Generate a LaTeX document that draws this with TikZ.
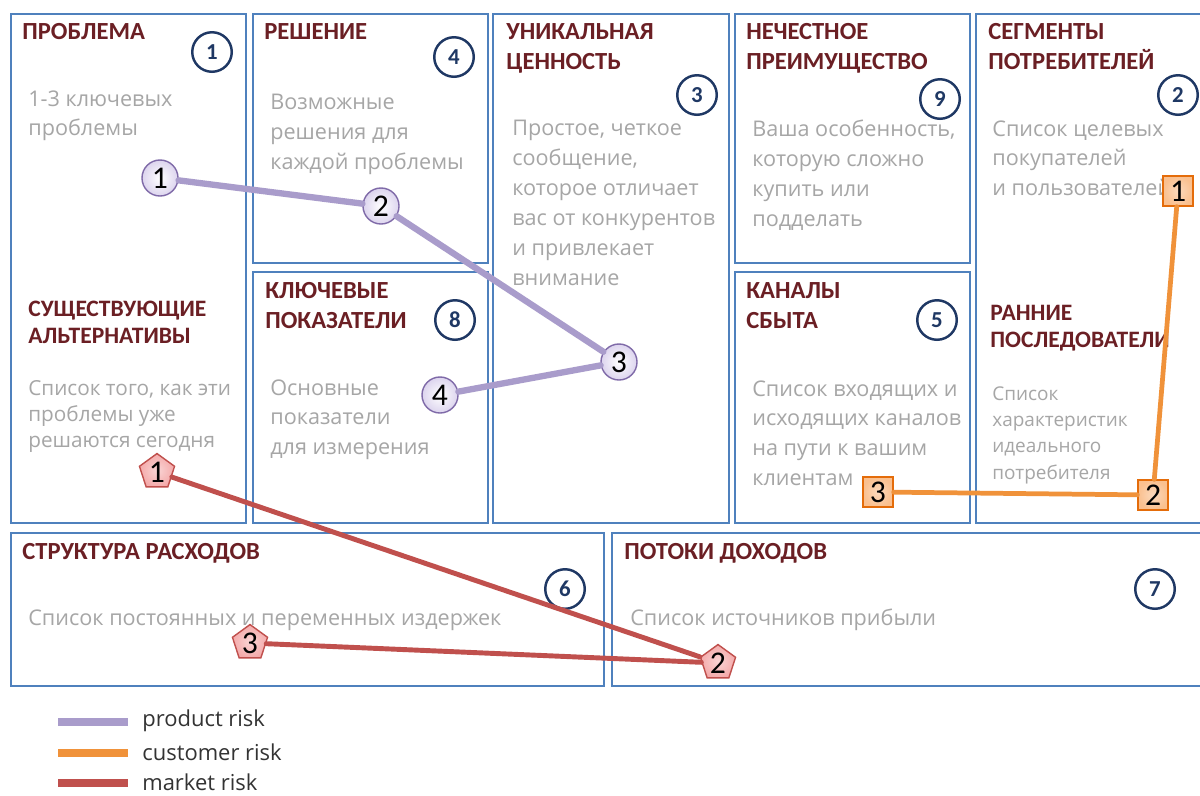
\documentclass[tikz,border=0pt]{standalone}
\usepackage{fontspec}
\setmainfont{Open Sans}
\newfontfamily\headfont{Carlito}
\usetikzlibrary{shapes.geometric}
\definecolor{boxblue}{HTML}{4F81BD}
\definecolor{navy}{HTML}{1F3864}
\definecolor{headred}{HTML}{6B1F24}
\definecolor{bodygray}{HTML}{A6A6A6}
\definecolor{prodline}{HTML}{A99CCB}
\definecolor{prodfill}{HTML}{DCD4EE}
\definecolor{prodedge}{HTML}{7F6AA8}
\definecolor{custline}{HTML}{F0923A}
\definecolor{custfill}{HTML}{FAC08F}
\definecolor{custedge}{HTML}{E46C0A}
\definecolor{mktline}{HTML}{C0504D}
\definecolor{mktfill}{HTML}{F4AAAA}
\tikzset{
  cell/.style={draw=boxblue, line width=1.5pt},
  head/.style={anchor=north west, inner sep=0pt, align=left, text=headred,
    font=\headfont\bfseries\fontsize{14}{17}\selectfont},
  smallhead/.style={head, font=\headfont\bfseries\fontsize{13.4}{15.4}\selectfont},
  body/.style={anchor=north west, inner sep=0pt, align=left, text=bodygray,
    font=\fontsize{12.3}{17}\selectfont},
  smallbody/.style={body, font=\fontsize{11.8}{14.8}\selectfont},
  num/.style={circle, draw=navy, line width=1.4pt, minimum size=22.5pt, inner sep=0pt,
    text=navy, font=\headfont\bfseries\fontsize{13}{13}\selectfont},
  prod/.style={circle, draw=prodedge, line width=0.8pt, inner color=white, outer color=prodfill,
    minimum size=20.5pt, inner sep=0pt, font=\headfont\fontsize{18}{18}\selectfont},
  cust/.style={rectangle, draw=custedge, line width=0.8pt, inner color=white!40!custfill, outer color=custfill,
    minimum size=17pt, inner sep=0pt, font=\headfont\fontsize{18}{18}\selectfont},
  mkt/.style={regular polygon, regular polygon sides=5, draw=mktline, line width=0.8pt,
    inner color=white!50!mktfill, outer color=mktfill, minimum size=21pt, inner sep=0pt,
    font=\headfont\fontsize{18}{18}\selectfont},
  prodrisk/.style={prodline, line width=3.6pt, line cap=round},
  custrisk/.style={custline, line width=2.7pt, line cap=round},
  mktrisk/.style={mktline, line width=2.8pt, line cap=round},
  legend/.style={anchor=west, inner sep=0pt, text=black!80, font=\fontsize{12.5}{14}\selectfont}
}
\begin{document}
\begin{tikzpicture}[x=0.02cm, y=-0.02cm]
    \useasboundingbox[fill=white] (0,0) rectangle (1200,795);
    \clip (0,0) rectangle (1200,795);
    % Boxes
    \draw[cell] (11,14) rectangle (246,523);
    \draw[cell] (253,14) rectangle (488,263);
    \draw[cell] (253,272) rectangle (488,523);
    \draw[cell] (493,14) rectangle (729,523);
    \draw[cell] (735,14) rectangle (970,263);
    \draw[cell] (735,272) rectangle (970,523);
    \draw[cell] (976,14) rectangle (1230,523);
    \draw[cell] (11,533) rectangle (604,686);
    \draw[cell] (612,533) rectangle (1230,686);
    % Headings
    \node[head] (hprob) at (22,23) {ПРОБЛЕМА};
    \node[head] (hsol) at (264,23) {РЕШЕНИЕ};
    \node[head] (huvp) at (506,23) {УНИКАЛЬНАЯ\\ЦЕННОСТЬ};
    \node[head] (hadv) at (746,23) {НЕЧЕСТНОЕ\\ПРЕИМУЩЕСТВО};
    \node[head] (hseg) at (988,23) {СЕГМЕНТЫ\\ПОТРЕБИТЕЛЕЙ};
    \node[head] (hmet) at (265,282) {КЛЮЧЕВЫЕ\\ПОКАЗАТЕЛИ};
    \node[head] (hchan) at (746,282) {КАНАЛЫ\\СБЫТА};
    \node[smallhead] (halt) at (28,301) {СУЩЕСТВУЮЩИЕ\\АЛЬТЕРНАТИВЫ};
    \node[smallhead] (hearly) at (990,305) {РАННИЕ\\ПОСЛЕДОВАТЕЛИ};
    \node[head] (hcost) at (22,543) {СТРУКТУРА РАСХОДОВ};
    \node[head] (hrev) at (624,543) {ПОТОКИ ДОХОДОВ};
    % Body texts
    \node[body] (tprob) at (28,90) {1-3 ключевых\\проблемы};
    \node[smallbody] (talt) at (28,380) {Список того, как эти\\проблемы уже\\решаются сегодня};
    \node[body] (tsol) at (270,94) {Возможные\\решения для\\каждой проблемы};
    \node[body] (tmet) at (270,379) {Основные\\показатели\\для измерения};
    \node[body] (tuvp) at (512,120) {Простое, четкое\\сообщение,\\которое отличает\\вас от конкурентов\\и привлекает\\внимание};
    \node[body] (tadv) at (752,120) {Ваша особенность,\\которую сложно\\купить или\\подделать};
    \node[body] (tchan) at (752,380) {Список входящих и\\исходящих каналов\\на пути к вашим\\клиентам};
    \node[body] (tseg) at (992,120) {Список целевых\\покупателей\\и пользователей};
    \node[body, font=\fontsize{10.8}{15}\selectfont] (tearly) at (992,386) {Список\\характеристик\\идеального\\потребителя};
    \node[body] (tcost) at (28,609) {Список постоянных и переменных издержек};
    \node[body] (trev) at (630,609) {Список источников прибыли};
    % Block numbers
    \node[num] (n1) at (212,52) {1};
    \node[num] (n4) at (454,57) {4};
    \node[num] (n3) at (697,95) {3};
    \node[num] (n9) at (940,99) {9};
    \node[num] (n2) at (1178,95) {2};
    \node[num] (n8) at (455,320) {8};
    \node[num] (n5) at (937,320) {5};
    \node[num] (n6) at (565,589) {6};
    \node[num] (n7) at (1155,589) {7};
    % Product risk
    \node[prod] (p1) at (160,178) {1};
    \node[prod] (p2) at (381,206) {2};
    \node[prod] (p3) at (619,362) {3};
    \node[prod] (p4) at (440,395) {4};
    \draw[prodrisk] (p1) -- (p2) -- (p3) -- (p4);
    % Customer risk
    \node[cust] (c1) at (1178,191) {1};
    \node[cust] (c2) at (1153,495) {2};
    \node[cust] (c3) at (878,492) {3};
    \draw[custrisk] (c1) -- (c2) -- (c3);
    % Market risk
    \node[mkt] (m1) at (157,472) {1};
    \node[mkt] (m2) at (718,663) {2};
    \node[mkt] (m3) at (250,643) {3};
    \draw[mktrisk] (m1) -- (m2) -- (m3);
    % Legend
    \coordinate (la) at (58,722);
    \coordinate (lb) at (128,722);
    \coordinate (lc) at (58,753);
    \coordinate (ld) at (128,753);
    \coordinate (le) at (58,783);
    \coordinate (lf) at (128,783);
    \draw[prodline, line width=4pt] (la) -- (lb);
    \draw[custline, line width=4pt] (lc) -- (ld);
    \draw[mktline, line width=4pt] (le) -- (lf);
    \node[legend] (lprod) at (142,721) {product risk};
    \node[legend] (lcust) at (142,752) {customer risk};
    \node[legend] (lmkt) at (142,782) {market risk};
\end{tikzpicture}
\end{document}
